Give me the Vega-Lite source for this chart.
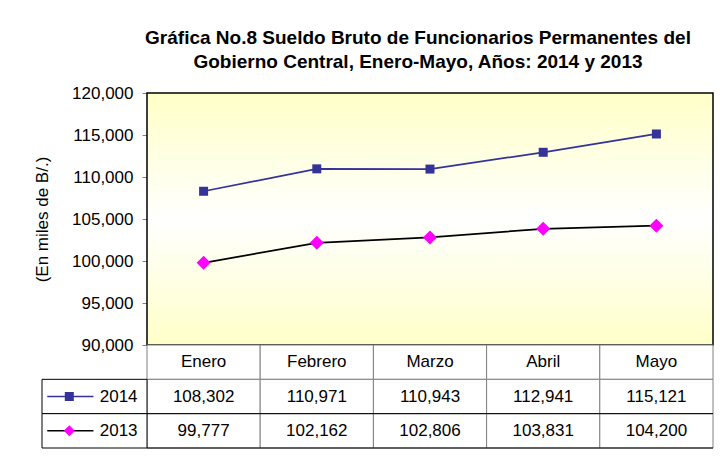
{
  "$schema": "https://vega.github.io/schema/vega-lite/v6.json",
  "width": 566,
  "height": 252,
  "padding": {"left": 33, "top": 29, "right": 6, "bottom": 20},
  "background": "white",
  "config": {"font": "Liberation Sans", "view": {"stroke": null}},
  "title": {
    "text": ["Gráfica No.8 Sueldo Bruto de Funcionarios Permanentes del", "Gobierno Central, Enero-Mayo, Años: 2014 y 2013"],
    "font": "Liberation Sans",
    "fontSize": 19,
    "fontWeight": "bold",
    "color": "#000000",
    "lineHeight": 24,
    "anchor": "middle",
    "dx": -12,
    "offset": 12
  },
  "datasets": {
    "series": [
      {"mes": "Enero", "anio": "2014", "valor": 108302},
      {"mes": "Febrero", "anio": "2014", "valor": 110971},
      {"mes": "Marzo", "anio": "2014", "valor": 110943},
      {"mes": "Abril", "anio": "2014", "valor": 112941},
      {"mes": "Mayo", "anio": "2014", "valor": 115121},
      {"mes": "Enero", "anio": "2013", "valor": 99777},
      {"mes": "Febrero", "anio": "2013", "valor": 102162},
      {"mes": "Marzo", "anio": "2013", "valor": 102806},
      {"mes": "Abril", "anio": "2013", "valor": 103831},
      {"mes": "Mayo", "anio": "2013", "valor": 104200}
    ]
  },
  "data": {"name": "series"},
  "layer": [
    {
      "data": {"values": [{"area": "plot"}]},
      "mark": {
        "type": "rect",
        "fill": {"gradient": "linear", "x1": 0, "y1": 0, "x2": 0, "y2": 1,
          "stops": [{"offset": 0, "color": "#FFFFC8"}, {"offset": 0.5, "color": "#FFFFFF"}, {"offset": 1, "color": "#FFFFC8"}]},
        "stroke": "#000000",
        "strokeWidth": 1.5
      },
      "encoding": {}
    },
    {
      "mark": {"type": "line", "strokeWidth": 1.75},
      "encoding": {
        "x": {"field": "mes", "type": "nominal", "sort": ["Enero", "Febrero", "Marzo", "Abril", "Mayo"], "scale": {"domain": ["Enero", "Febrero", "Marzo", "Abril", "Mayo"], "paddingInner": 0, "paddingOuter": 0}, "axis": null},
        "y": {
          "field": "valor", "type": "quantitative",
          "scale": {"domain": [90000, 120000]},
          "axis": {
            "orient": "left",
            "values": [90000, 95000, 100000, 105000, 110000, 115000, 120000],
            "format": ",d",
            "grid": false,
            "domain": false,
            "tickSize": 5,
            "tickColor": "#808080",
            "labelFont": "Liberation Sans",
            "labelFontSize": 17,
            "labelColor": "#000000",
            "labelPadding": 9,
            "title": "(En miles de B/.)",
            "titleFont": "Liberation Sans",
            "titleFontSize": 17,
            "titleFontWeight": "normal",
            "titleColor": "#000000",
            "titlePadding": 20
          }
        },
        "stroke": {"field": "anio", "type": "nominal", "scale": {"domain": ["2014", "2013"], "range": ["#333399", "#000000"]}, "legend": null}
      }
    },
    {
      "mark": {"type": "point", "filled": true, "opacity": 1, "strokeWidth": 0},
      "encoding": {
        "x": {"field": "mes", "type": "nominal", "sort": ["Enero", "Febrero", "Marzo", "Abril", "Mayo"], "scale": {"domain": ["Enero", "Febrero", "Marzo", "Abril", "Mayo"], "paddingInner": 0, "paddingOuter": 0}, "axis": null},
        "y": {"field": "valor", "type": "quantitative", "scale": {"domain": [90000, 120000]}, "axis": null},
        "fill": {"field": "anio", "type": "nominal", "scale": {"domain": ["2014", "2013"], "range": ["#333399", "#FF00FF"]}, "legend": null},
        "shape": {"field": "anio", "type": "nominal", "scale": {"domain": ["2014", "2013"], "range": ["square", "diamond"]}, "legend": null},
        "size": {"field": "anio", "type": "nominal", "scale": {"domain": ["2014", "2013"], "range": [81, 196]}, "legend": null}
      }
    },
    {
      "transform": [{"filter": "datum.anio == '2014'"}],
      "mark": {"type": "rect", "fill": "#ffffff", "stroke": "#808080", "strokeWidth": 1},
      "encoding": {
        "x": {"field": "mes", "type": "nominal", "sort": ["Enero", "Febrero", "Marzo", "Abril", "Mayo"], "scale": {"domain": ["Enero", "Febrero", "Marzo", "Abril", "Mayo"], "paddingInner": 0, "paddingOuter": 0}, "axis": null},
        "y": {"datum": "Mes", "type": "nominal", "scale": {"domain": ["Mes", "2014", "2013"], "range": [252, 355], "paddingInner": 0, "paddingOuter": 0}, "axis": null}
      }
    },
    {
      "mark": {"type": "rect", "fill": "#ffffff", "stroke": "#808080", "strokeWidth": 1},
      "encoding": {
        "x": {"field": "mes", "type": "nominal", "sort": ["Enero", "Febrero", "Marzo", "Abril", "Mayo"], "scale": {"domain": ["Enero", "Febrero", "Marzo", "Abril", "Mayo"], "paddingInner": 0, "paddingOuter": 0}, "axis": null},
        "y": {"field": "anio", "type": "nominal", "scale": {"domain": ["Mes", "2014", "2013"], "range": [252, 355], "paddingInner": 0, "paddingOuter": 0}, "axis": null}
      }
    },
    {
      "transform": [{"filter": "datum.mes == 'Enero'"}],
      "mark": {"type": "rule", "stroke": "#000000", "strokeWidth": 1},
      "encoding": {
        "y": {"field": "anio", "type": "nominal", "bandPosition": 1, "scale": {"domain": ["Mes", "2014", "2013"], "range": [252, 355], "paddingInner": 0, "paddingOuter": 0}, "axis": null}
      }
    },
    {
      "transform": [{"filter": "datum.mes == 'Enero'"}],
      "mark": {"type": "rect", "fill": "#ffffff", "stroke": "#000000", "strokeWidth": 1},
      "encoding": {
        "x": {"datum": "leg", "type": "nominal", "scale": {"domain": ["leg"], "range": [-105, 0], "paddingInner": 0, "paddingOuter": 0}, "axis": null},
        "y": {"field": "anio", "type": "nominal", "scale": {"domain": ["Mes", "2014", "2013"], "range": [252, 355], "paddingInner": 0, "paddingOuter": 0}, "axis": null}
      }
    },
    {
      "transform": [{"filter": "datum.mes == 'Enero'"}],
      "mark": {"type": "rule", "strokeWidth": 1.5},
      "encoding": {
        "x": {"datum": 0.05, "type": "quantitative", "scale": {"domain": [0, 1], "range": [-105, 0]}, "axis": null},
        "x2": {"datum": 0.49},
        "y": {"field": "anio", "type": "nominal", "scale": {"domain": ["Mes", "2014", "2013"], "range": [252, 355], "paddingInner": 0, "paddingOuter": 0}, "axis": null},
        "stroke": {"field": "anio", "type": "nominal", "scale": {"domain": ["2014", "2013"], "range": ["#333399", "#000000"]}, "legend": null}
      }
    },
    {
      "transform": [{"filter": "datum.mes == 'Enero'"}],
      "mark": {"type": "point", "filled": true, "opacity": 1, "strokeWidth": 0},
      "encoding": {
        "x": {"datum": 0.26, "type": "quantitative", "scale": {"domain": [0, 1], "range": [-105, 0]}, "axis": null},
        "y": {"field": "anio", "type": "nominal", "scale": {"domain": ["Mes", "2014", "2013"], "range": [252, 355], "paddingInner": 0, "paddingOuter": 0}, "axis": null},
        "fill": {"field": "anio", "type": "nominal", "scale": {"domain": ["2014", "2013"], "range": ["#333399", "#FF00FF"]}, "legend": null},
        "shape": {"field": "anio", "type": "nominal", "scale": {"domain": ["2014", "2013"], "range": ["square", "diamond"]}, "legend": null},
        "size": {"field": "anio", "type": "nominal", "scale": {"domain": ["2014", "2013"], "range": [81, 121]}, "legend": null}
      }
    },
    {
      "transform": [{"filter": "datum.mes == 'Enero'"}],
      "mark": {"type": "text", "align": "right", "baseline": "middle", "font": "Liberation Sans", "fontSize": 17, "color": "#000000"},
      "encoding": {
        "x": {"datum": 0.91, "type": "quantitative", "scale": {"domain": [0, 1], "range": [-105, 0]}, "axis": null},
        "y": {"field": "anio", "type": "nominal", "scale": {"domain": ["Mes", "2014", "2013"], "range": [252, 355], "paddingInner": 0, "paddingOuter": 0}, "axis": null},
        "text": {"field": "anio", "type": "nominal"}
      }
    },
    {
      "transform": [{"filter": "datum.anio == '2014'"}],
      "mark": {"type": "text", "align": "center", "baseline": "middle", "font": "Liberation Sans", "fontSize": 17, "color": "#000000"},
      "encoding": {
        "x": {"field": "mes", "type": "nominal", "sort": ["Enero", "Febrero", "Marzo", "Abril", "Mayo"], "scale": {"domain": ["Enero", "Febrero", "Marzo", "Abril", "Mayo"], "paddingInner": 0, "paddingOuter": 0}, "axis": null},
        "y": {"datum": "Mes", "type": "nominal", "scale": {"domain": ["Mes", "2014", "2013"], "range": [252, 355], "paddingInner": 0, "paddingOuter": 0}, "axis": null},
        "text": {"field": "mes", "type": "nominal"}
      }
    },
    {
      "mark": {"type": "text", "align": "center", "baseline": "middle", "font": "Liberation Sans", "fontSize": 17, "color": "#000000"},
      "encoding": {
        "x": {"field": "mes", "type": "nominal", "sort": ["Enero", "Febrero", "Marzo", "Abril", "Mayo"], "scale": {"domain": ["Enero", "Febrero", "Marzo", "Abril", "Mayo"], "paddingInner": 0, "paddingOuter": 0}, "axis": null},
        "y": {"field": "anio", "type": "nominal", "scale": {"domain": ["Mes", "2014", "2013"], "range": [252, 355], "paddingInner": 0, "paddingOuter": 0}, "axis": null},
        "text": {"field": "valor", "type": "quantitative", "format": ","}
      }
    }
  ],
  "resolve": {"scale": {"x": "independent", "y": "independent", "size": "independent"}}
}
